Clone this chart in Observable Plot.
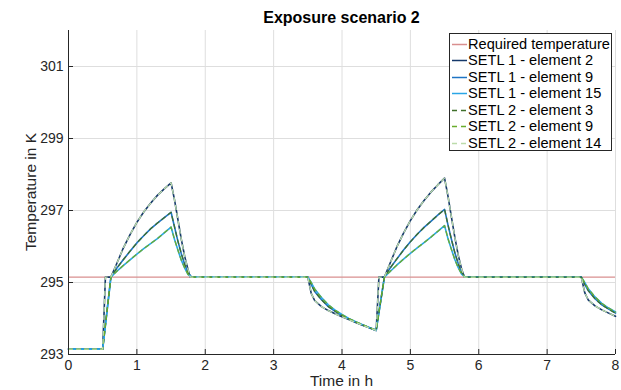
<!DOCTYPE html>
<html>
<head>
<meta charset="utf-8">
<script src="https://cdn.jsdelivr.net/npm/d3@7"></script>
<script src="https://cdn.jsdelivr.net/npm/@observablehq/plot@0.6"></script>
<style>
  html, body { margin: 0; padding: 0; background: #fff; }
  body { font-family: "Liberation Sans", Arial, Helvetica, sans-serif; }
  #wrap { position: relative; width: 621px; height: 390px; overflow: hidden; }
  .title { position: absolute; left: 68px; width: 547px; top: 8px; text-align: center;
           font-weight: bold; font-size: 16px; line-height: 20px; color: #000; }
  .xlabel { position: absolute; left: 68px; width: 547px; top: 372px; text-align: center;
            font-size: 15.5px; line-height: 18px; color: #262626; }
  .ylabel { position: absolute; left: 31px; top: 192px; transform: translate(-50%, -50%) rotate(-90deg);
            white-space: nowrap; font-size: 15.5px; line-height: 18px; color: #262626; }
  .legend { position: absolute; left: 449px; top: 33px; width: 163px; height: 118px;
            border: 1px solid #262626; background: #fff; box-sizing: border-box; }
  .row { position: absolute; left: 2px; height: 16px; display: flex; align-items: center;
         font-size: 14.6px; color: #000; white-space: nowrap; }
  .row svg { margin-right: 1px; }
</style>
</head>
<body>
<div id="wrap"></div>
<script>
// ---- Data ----
const reqTemp = 295.15; // Required temperature, K

// time grid for SETL 1 - element 2 (and SETL 2 - element 14)
const timeA = [0, 0.5, 0.54, 0.62, 0.7, 0.8, 0.9, 1.0, 1.1, 1.2, 1.3, 1.4, 1.5, 1.55, 1.6, 1.65, 1.7, 1.75, 1.78,
  3.5, 3.55, 3.6, 3.7, 3.8, 3.9, 4.0, 4.1, 4.2, 4.3, 4.4, 4.5, 4.54, 4.62, 4.7, 4.8, 4.9, 5.0, 5.1, 5.2, 5.3, 5.4, 5.5,
  5.55, 5.6, 5.65, 5.7, 5.75, 5.79, 7.5, 7.55, 7.6, 7.7, 7.8, 7.9, 8.0];
const setl1El2 = [293.15, 293.15, 295.15, 295.15, 295.5, 295.95, 296.33, 296.67, 296.96, 297.2, 297.42, 297.6, 297.77,
  297.3, 296.75, 296.2, 295.72, 295.35, 295.15,
  295.15, 294.7, 294.5, 294.33, 294.22, 294.13, 294.05, 293.97, 293.89, 293.81, 293.74, 293.67, 295.15, 295.15,
  295.52, 295.98, 296.37, 296.72, 297.02, 297.28, 297.51, 297.71, 297.9,
  297.4, 296.82, 296.26, 295.76, 295.37, 295.15, 295.15, 294.72, 294.52, 294.35, 294.24, 294.15, 294.06];

// time grid for the other elements
const timeB = [0, 0.5, 0.62, 0.7, 0.8, 0.9, 1.0, 1.1, 1.2, 1.3, 1.4, 1.5, 1.55, 1.6, 1.65, 1.7, 1.75, 1.8,
  3.5, 3.55, 3.6, 3.7, 3.8, 3.9, 4.0, 4.1, 4.2, 4.3, 4.4, 4.5, 4.62, 4.7, 4.8, 4.9, 5.0, 5.1, 5.2, 5.3, 5.4, 5.5,
  5.55, 5.6, 5.65, 5.7, 5.75, 5.8, 7.5, 7.55, 7.6, 7.7, 7.8, 7.9, 8.0];
const setl1El9 = [293.15, 293.15, 295.15, 295.38, 295.63, 295.87, 296.1, 296.3, 296.49, 296.65, 296.8, 296.95,
  296.55, 296.15, 295.8, 295.5, 295.27, 295.15,
  295.15, 294.95, 294.75, 294.52, 294.33, 294.2, 294.08, 293.99, 293.9, 293.82, 293.74, 293.67, 295.15,
  295.39, 295.65, 295.9, 296.13, 296.34, 296.53, 296.7, 296.87, 297.03,
  296.6, 296.2, 295.83, 295.52, 295.28, 295.15, 295.15, 294.95, 294.78, 294.55, 294.38, 294.26, 294.15];
const setl1El15 = [293.15, 293.15, 295.15, 295.3, 295.47, 295.63, 295.79, 295.94, 296.08, 296.22, 296.38, 296.54,
  296.2, 295.9, 295.62, 295.4, 295.22, 295.15,
  295.15, 295.0, 294.82, 294.58, 294.38, 294.23, 294.11, 294.0, 293.91, 293.83, 293.75, 293.68, 295.15,
  295.3, 295.48, 295.65, 295.81, 295.96, 296.11, 296.26, 296.42, 296.58,
  296.22, 295.92, 295.64, 295.41, 295.23, 295.15, 295.15, 295.0, 294.83, 294.6, 294.42, 294.29, 294.18];
// SETL 2 curves lie on top of the SETL 1 curves in the picture
const setl2El3 = setl1El9.slice();
const setl2El9 = setl1El15.slice();
const setl2El14 = setl1El2.slice();

const xTicks = [0, 1, 2, 3, 4, 5, 6, 7, 8];
const yTicks = [293, 295, 297, 299, 301];

const seriesNames = ["SETL 1 - element 2", "SETL 1 - element 9", "SETL 1 - element 15",
                     "SETL 2 - element 3", "SETL 2 - element 9", "SETL 2 - element 14"];
const seriesTimes = [timeA, timeB, timeB, timeB, timeB, timeA];
const seriesValues = [setl1El2, setl1El9, setl1El15, setl2El3, setl2El9, setl2El14];
const seriesColors = ["#15386a", "#1f74c4", "#2aa6e6", "#3f6f2a", "#6aad2c", "#bcdcaa"];
const seriesDash = [null, null, null, "4,4", "4,4", "4,4"];
const seriesWidth = [1.6, 1.6, 1.6, 1.3, 1.3, 1.3];
const reqColor = "#d98f8f";

// ---- Build chart ----
const W = 621, H = 390;
const mL = 68, mR = 6, mT = 30, mB = 36;
const frameW = W - mL - mR, frameH = H - mT - mB;
const axisColor = "#262626";
const gridColor = "#dedede";

const lineMarks = seriesNames.map((name, k) => {
  const rows = seriesTimes[k].map((t, i) => ({t, v: seriesValues[k][i]}));
  return Plot.line(rows, {x: "t", y: "v", stroke: seriesColors[k], strokeWidth: seriesWidth[k],
    strokeDasharray: seriesDash[k] || undefined, strokeLinejoin: "round"});
});

const chart = Plot.plot({
  width: W, height: H,
  marginLeft: mL, marginRight: mR, marginTop: mT, marginBottom: mB,
  style: {background: "transparent", fontFamily: "'Liberation Sans', Arial, sans-serif", overflow: "visible"},
  x: {domain: [0, 8]},
  y: {domain: [293, 302]},
  marks: [
    Plot.gridX(xTicks, {stroke: gridColor, strokeOpacity: 1}),
    Plot.gridY(yTicks, {stroke: gridColor, strokeOpacity: 1}),
    Plot.ruleY([reqTemp], {stroke: reqColor, strokeWidth: 1.4}),
    ...lineMarks,
    Plot.ruleX([0], {stroke: axisColor}),
    Plot.ruleY([293], {stroke: axisColor}),
    Plot.ruleX(xTicks, {stroke: axisColor, insetTop: frameH - 5}),
    Plot.ruleY(yTicks, {stroke: axisColor, insetRight: frameW - 5}),
    Plot.axisX(xTicks, {tickSize: 0, tickPadding: 6, fontSize: 14, color: axisColor, label: null}),
    Plot.axisY(yTicks, {tickSize: 0, tickPadding: 5, fontSize: 14, color: axisColor, label: null})
  ]
});

const wrap = document.getElementById("wrap");
wrap.appendChild(chart);

function addDiv(cls, text) {
  const d = document.createElement("div");
  d.className = cls;
  d.textContent = text;
  wrap.appendChild(d);
  return d;
}
addDiv("title", "Exposure scenario 2");
addDiv("xlabel", "Time in h");
addDiv("ylabel", "Temperature in K");

// legend
const legend = document.createElement("div");
legend.className = "legend";
wrap.appendChild(legend);
const legendNames = ["Required temperature", ...seriesNames];
const legendColors = [reqColor, ...seriesColors];
const legendDash = [null, ...seriesDash];
legendNames.forEach((name, i) => {
  const row = document.createElement("div");
  row.className = "row";
  row.style.top = (2 + 16.45 * i) + "px";
  const svg = d3.create("svg").attr("width", 15).attr("height", 16);
  svg.append("line").attr("x1", 0).attr("x2", 15).attr("y1", 8.5).attr("y2", 8.5)
    .attr("stroke", legendColors[i]).attr("stroke-width", 1.5)
    .attr("stroke-dasharray", legendDash[i] ? "5,4" : null);
  row.appendChild(svg.node());
  const span = document.createElement("span");
  span.textContent = name;
  row.appendChild(span);
  legend.appendChild(row);
});
</script>
</body>
</html>
